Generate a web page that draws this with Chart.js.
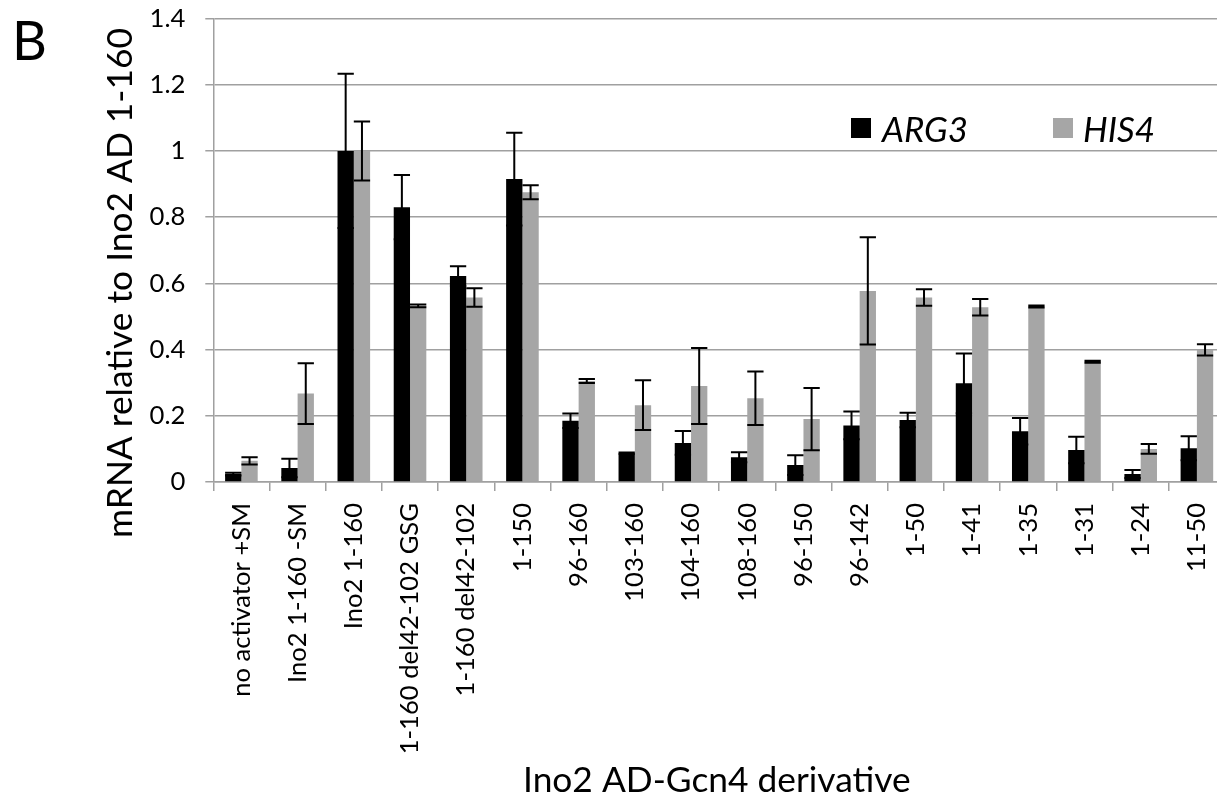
<!DOCTYPE html>
<html>
<head>
<meta charset="utf-8">
<script src="https://cdn.jsdelivr.net/npm/chart.js@4.4.1/dist/chart.umd.min.js"></script>
<style>
  html, body { margin: 0; padding: 0; background: #ffffff; overflow: hidden; }
  #wrap { width: 1217px; height: 797px; overflow: hidden; position: relative; }
  canvas { display: block; }
</style>
</head>
<body>
<div id="wrap"><canvas id="chart" width="1225" height="797"></canvas></div>
<script>
// Constructs on the x axis
const categories = [
  'no activator +SM', 'Ino2 1-160 -SM', 'Ino2 1-160', '1-160 del42-102 GSG',
  '1-160 del42-102', '1-150', '96-160', '103-160', '104-160', '108-160',
  '96-150', '96-142', '1-50', '1-41', '1-35', '1-31', '1-24', '11-50'
];

// ARG3 mRNA and its error
const arg3Values = [0.024, 0.042, 1.000, 0.830, 0.622, 0.915, 0.185, 0.087, 0.118,
                    0.075, 0.051, 0.171, 0.187, 0.298, 0.153, 0.097, 0.024, 0.102];
const arg3Errors = [0.004, 0.028, 0.233, 0.097, 0.030, 0.140, 0.022, 0.002, 0.036,
                    0.015, 0.030, 0.042, 0.022, 0.090, 0.040, 0.040, 0.012, 0.036];

// HIS4 mRNA and its error
const his4Values = [0.064, 0.267, 1.000, 0.532, 0.557, 0.875, 0.305, 0.232, 0.290,
                    0.253, 0.190, 0.577, 0.557, 0.528, 0.530, 0.363, 0.100, 0.399];
const his4Errors = [0.011, 0.092, 0.089, 0.004, 0.028, 0.021, 0.006, 0.075, 0.115,
                    0.081, 0.094, 0.162, 0.025, 0.025, 0.003, 0.003, 0.015, 0.017];

// Value axis ticks
const yTicks = [0, 0.2, 0.4, 0.6, 0.8, 1.0, 1.2, 1.4];

const seriesNames = ['ARG3', 'HIS4'];
const seriesColors = ['#000000', '#a6a6a6'];

const FAMILY = 'Lato, "Open Sans", "DejaVu Sans", sans-serif';
const GRID = '#a0a0a0';

// Pick a font size so that a string spans a given width
const measureCtx = document.createElement('canvas').getContext('2d');
function fitSize(text, width, style) {
  measureCtx.font = (style || '') + ' 100px ' + FAMILY;
  return 100 * width / measureCtx.measureText(text).width;
}
const tickSize = fitSize('no activator +SM', 194);
const titleSize = fitSize('mRNA relative to Ino2 AD 1-160', 510);
const legendSize = fitSize('ARG3', 86, 'italic');

// Error bars, axis titles, panel letter and legend
const decorations = {
  id: 'decorations',
  afterDatasetsDraw(chart) {
    const ctx = chart.ctx;
    const y = chart.scales.y;
    ctx.save();
    ctx.strokeStyle = '#000000';
    ctx.lineWidth = 2;
    const errs = [arg3Errors, his4Errors];
    const vals = [arg3Values, his4Values];
    chart.data.datasets.forEach((ds, di) => {
      chart.getDatasetMeta(di).data.forEach((bar, i) => {
        const v = vals[di][i], e = errs[di][i];
        const yHi = y.getPixelForValue(v + e);
        const yLo = y.getPixelForValue(Math.max(0, v - e));
        const half = bar.width / 2;
        ctx.beginPath();
        ctx.moveTo(bar.x, yHi); ctx.lineTo(bar.x, yLo);
        ctx.moveTo(bar.x - half, yHi); ctx.lineTo(bar.x + half, yHi);
        ctx.moveTo(bar.x - half, yLo); ctx.lineTo(bar.x + half, yLo);
        ctx.stroke();
      });
    });
    ctx.restore();
  },
  afterDraw(chart) {
    const ctx = chart.ctx;
    ctx.save();
    ctx.fillStyle = '#000000';

    // panel letter
    ctx.font = '54px ' + FAMILY;
    ctx.textAlign = 'left';
    ctx.textBaseline = 'alphabetic';
    ctx.fillText('B', 12, 60);

    // y axis title
    ctx.save();
    ctx.translate(132, 283);
    ctx.rotate(-Math.PI / 2);
    ctx.font = titleSize.toFixed(2) + 'px ' + FAMILY;
    ctx.textAlign = 'center';
    ctx.fillText('mRNA relative to Ino2 AD 1-160', 0, 0);
    ctx.restore();

    // x axis title
    ctx.font = titleSize.toFixed(2) + 'px ' + FAMILY;
    ctx.textAlign = 'left';
    ctx.fillText('Ino2 AD-Gcn4 derivative', 523, 792);

    // legend
    const items = [
      { box: 851, text: 882 },
      { box: 1053, text: 1083 }
    ];
    ctx.font = 'italic ' + legendSize.toFixed(2) + 'px ' + FAMILY;
    items.forEach((it, k) => {
      ctx.fillStyle = seriesColors[k];
      ctx.fillRect(it.box, 118, 20, 20);
      ctx.fillStyle = '#000000';
      ctx.fillText(seriesNames[k], it.text, 142);
    });
    ctx.restore();
  }
};

new Chart(document.getElementById('chart'), {
  type: 'bar',
  data: {
    labels: categories,
    datasets: [
      { label: seriesNames[0], data: arg3Values, backgroundColor: seriesColors[0] },
      { label: seriesNames[1], data: his4Values, backgroundColor: seriesColors[1] }
    ]
  },
  options: {
    responsive: false,
    animation: false,
    devicePixelRatio: 1,
    layout: { padding: { top: 18.5, left: 0, right: 0, bottom: 0 } },
    datasets: { bar: { categoryPercentage: 0.58, barPercentage: 1.0 } },
    plugins: { legend: { display: false }, tooltip: { enabled: false } },
    scales: {
      x: {
        afterFit(scale) {
          scale.height = 797 - 482;
          scale.paddingLeft = 0; scale.paddingRight = 0;
        },
        grid: { display: true, drawOnChartArea: false, drawTicks: true, tickLength: 9,
                offset: true, color: GRID, lineWidth: 1.5 },
        border: { display: true, color: GRID, width: 1.5 },
        ticks: {
          autoSkip: false, minRotation: 90, maxRotation: 90, padding: 12,
          color: '#000000', font: { family: FAMILY, size: tickSize }
        }
      },
      y: {
        min: 0, max: 1.4,
        afterFit(scale) {
          scale.width = 213.3;
          scale.paddingTop = 0; scale.paddingBottom = 0;
        },
        afterBuildTicks(scale) { scale.ticks = yTicks.map(v => ({ value: v })); },
        grid: { color: GRID, lineWidth: 1.5, drawTicks: true, tickLength: 8 },
        border: { display: true, color: GRID, width: 1.5 },
        ticks: {
          padding: 20, color: '#000000', font: { family: FAMILY, size: tickSize },
          callback: v => String(Math.round(v * 10) / 10)
        }
      }
    }
  },
  plugins: [decorations]
});
</script>
</body>
</html>
